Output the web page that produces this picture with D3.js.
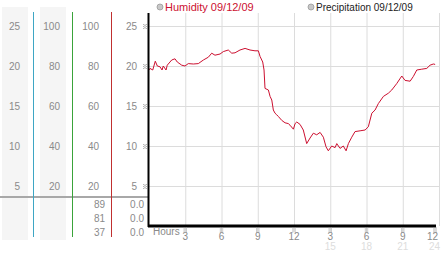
<!DOCTYPE html>
<html>
<head>
<meta charset="utf-8">
<script src="https://cdn.jsdelivr.net/npm/d3@7"></script>
<style>
  body { margin: 0; background: #fff; }
  svg { display: block; }
  text { font-family: 'Liberation Sans', Arial, sans-serif; }
</style>
</head>
<body>
<div id="chart"></div>
<script>
// readings, hours since midnight
const hours = [0, 0.08, 0.31, 0.52, 0.69, 0.91, 1.08, 1.18, 1.41, 1.51, 1.88, 2.15, 2.34, 2.71, 2.98,
  3.25, 3.67, 4.08, 4.5, 4.91, 5.19, 5.46, 5.88, 6.15, 6.56, 6.85, 7.12, 7.53, 7.95, 8.36, 8.77,
  9.05, 9.19, 9.41, 9.52, 9.6, 9.88, 10.02, 10.16, 10.29, 10.43, 10.57, 10.7, 10.99, 11.26, 11.53,
  11.67, 11.95, 12.09, 12.23, 12.5, 12.77, 13.05, 13.33, 13.6, 13.88, 14.16, 14.43, 14.65, 14.84,
  15.12, 15.4, 15.54, 15.81, 16.08, 16.31, 16.5, 16.78, 17.05, 17.47, 17.88, 18.15, 18.44, 18.71,
  18.98, 19.4, 19.81, 20.09, 20.5, 20.92, 21.19, 21.61, 21.88, 22.16, 22.57, 22.99, 23.26, 23.53, 23.68];
const humidity = [19.5, 19.7, 19.5, 20.6, 20.0, 19.9, 19.5, 20.0, 19.5, 20.1, 20.75, 20.9, 20.5, 20.1, 20.0,
  20.3, 20.25, 20.3, 20.75, 21.1, 21.6, 21.35, 21.5, 21.8, 22.0, 21.6, 21.65, 22.0, 22.2, 22.0, 21.9,
  21.9, 21.2, 20.5, 19.5, 17.2, 17.0, 16.2, 15.75, 14.5, 14.1, 13.9, 13.7, 13.2, 12.9, 12.8,
  12.6, 12.1, 12.8, 13.0, 12.7, 12.0, 10.3, 11.0, 11.6, 11.4, 11.7, 11.1, 9.9, 9.4,
  10.0, 9.8, 10.3, 9.7, 10.0, 9.4, 10.3, 11.1, 11.8, 11.9, 12.0, 12.4, 14.1, 14.5,
  15.3, 16.2, 16.6, 17.0, 17.8, 18.75, 18.2, 18.1, 18.7, 19.5, 19.6, 19.7, 20.1, 20.25, 20.2];

const yTicks = [25, 20, 15, 10, 5];
const pctTicks = [100, 80, 60, 40, 20];
const xTicks = [3, 6, 9, 12, 15, 18, 21, 24];
const xTickLabels = ['3', '6', '9', '12', '3', '6', '9', '12'];
const xTickLabels24 = ['', '', '', '', '15', '18', '21', '24'];
const summaryPct = [89, 81, 37];
const summaryRain = ['0.0', '0.0', '0.0'];
const legendItems = [
  { label: 'Humidity 09/12/09', color: '#cc1030', x: 160, size: 11 },
  { label: 'Precipitation 09/12/09', color: '#222', x: 311, size: 10 }
];

const W = 442, H = 253;
const svg = d3.select('#chart').append('svg').attr('width', W).attr('height', H);

const x = d3.scaleLinear().domain([0, 24]).range([149, 439]);
const y = d3.scaleLinear().domain([0, 26.625]).range([226, 13]);

// left panel columns
svg.append('rect').attr('x', 2).attr('y', 7).attr('width', 26).attr('height', 233).attr('fill', '#f5f5f5');
svg.append('rect').attr('x', 40).attr('y', 7).attr('width', 26).attr('height', 233).attr('fill', '#f5f5f5');

const labelColor = '#8a8a8a';
const cols = [
  { ticks: yTicks, right: 20 },
  { ticks: pctTicks, right: 60 },
  { ticks: pctTicks, right: 99 },
  { ticks: yTicks, right: 137 }
];
cols.forEach(c => {
  svg.append('g').selectAll('text').data(c.ticks).enter().append('text')
    .attr('x', c.right).attr('y', d => y(c.ticks === yTicks ? d : d / 4))
    .attr('dy', '0.35em').attr('text-anchor', 'end')
    .attr('font-size', 10).attr('fill', labelColor)
    .text(d => d);
});

// separator
svg.append('line').attr('x1', 0).attr('x2', 149).attr('y1', 197).attr('y2', 197)
  .attr('stroke', '#a8a8a8').attr('stroke-width', 2);

// dividers
[{ x: 33.5, c: '#3ea6c4' }, { x: 72.5, c: '#3aa33a' }, { x: 111.5, c: '#c03030' }].forEach(d => {
  svg.append('line').attr('x1', d.x).attr('x2', d.x).attr('y1', 12).attr('y2', 237)
    .attr('stroke', d.c).attr('stroke-width', 1);
});

// summary rows
const rowY = [204, 218, 232];
svg.append('g').selectAll('text').data(summaryPct).enter().append('text')
  .attr('x', 105).attr('y', (d, i) => rowY[i]).attr('dy', '0.35em').attr('text-anchor', 'end')
  .attr('font-size', 10).attr('fill', labelColor).text(d => d);
svg.append('g').selectAll('text').data(summaryRain).enter().append('text')
  .attr('x', 144).attr('y', (d, i) => rowY[i]).attr('dy', '0.35em').attr('text-anchor', 'end')
  .attr('font-size', 10).attr('fill', labelColor).text(d => d);

// little dotted tick glyph
function glyph(g, cx, cy) {
  const pts = [[-1, -2], [1, -2], [0, -1], [-1, 0], [1, 0], [0, 1], [-1, 2], [1, 2]];
  g.append('g').selectAll('rect').data(pts).enter().append('rect')
    .attr('x', d => cx + d[0] * 1.2 - 0.5).attr('y', d => cy + d[1] - 0.5)
    .attr('width', 1).attr('height', 1).attr('fill', '#999');
}

// grid
const grid = svg.append('g');
grid.selectAll('line.h').data(yTicks).enter().append('line').attr('class', 'h')
  .attr('x1', 149).attr('x2', 439).attr('y1', d => y(d) + 0.5).attr('y2', d => y(d) + 0.5)
  .attr('stroke', '#dcdcdc');
grid.selectAll('line.v').data(xTicks).enter().append('line').attr('class', 'v')
  .attr('x1', d => x(d) + 0.5).attr('x2', d => x(d) + 0.5).attr('y1', 13).attr('y2', 226)
  .attr('stroke', '#dcdcdc');

yTicks.forEach(t => glyph(svg, 145, y(t) + 0.5));

// line
const line = d3.line().x((d, i) => x(hours[i])).y(d => y(d));
svg.append('path').datum(humidity).attr('d', line)
  .attr('fill', 'none').attr('stroke', '#cc1030').attr('stroke-width', 1);

// axes
svg.append('line').attr('x1', 148.5).attr('x2', 148.5).attr('y1', 13).attr('y2', 227)
  .attr('stroke', '#000').attr('stroke-width', 2);
svg.append('line').attr('x1', 148).attr('x2', 436).attr('y1', 226).attr('y2', 226)
  .attr('stroke', '#000').attr('stroke-width', 3);

// x labels
svg.append('text').attr('x', 153).attr('y', 231).attr('dy', '0.35em')
  .attr('font-size', 10).attr('fill', labelColor).text('Hours');
xTicks.forEach((t, i) => {
  const last = i === xTicks.length - 1;
  const lx = last ? 440 : x(t);
  const anchor = last ? 'end' : 'middle';
  glyph(svg, last ? 435 : x(t), 230);
  svg.append('text').attr('x', last ? 438 : lx).attr('y', 236).attr('dy', '0.35em').attr('text-anchor', anchor)
    .attr('font-size', 10).attr('fill', labelColor).text(xTickLabels[i]);
  svg.append('text').attr('x', lx).attr('y', 246).attr('dy', '0.35em').attr('text-anchor', anchor)
    .attr('font-size', 10).attr('fill', '#dddddd').text(xTickLabels24[i]);
});

// legend
legendItems.forEach(d => {
  svg.append('circle').attr('cx', d.x).attr('cy', 7).attr('r', 3)
    .attr('fill', '#c8c8c8').attr('stroke', '#999').attr('stroke-width', 0.8);
  svg.append('text').attr('x', d.x + 5).attr('y', 7).attr('dy', '0.35em')
    .attr('font-size', d.size).attr('fill', d.color).text(d.label);
});
</script>
</body>
</html>
